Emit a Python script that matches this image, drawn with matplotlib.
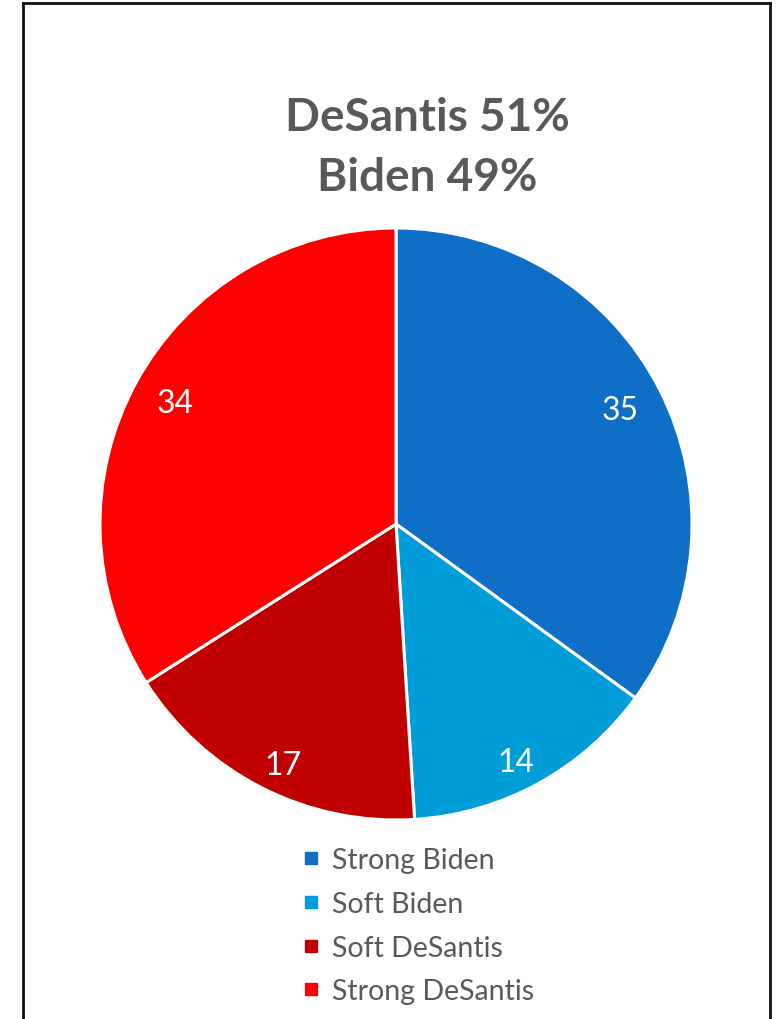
import matplotlib
matplotlib.use("Agg")
import matplotlib.pyplot as plt
from matplotlib.lines import Line2D
import numpy as np

categories = ["Strong Biden", "Soft Biden", "Soft DeSantis", "Strong DeSantis"]
values = [35, 14, 17, 34]
colors = ["#0F6FC6", "#009DD9", "#C00000", "#FF0000"]
title_lines = ["DeSantis 51%", "Biden 49%"]
label_dist = [0.85, 0.90, 0.90, 0.85]
label_nudge_deg = [0, -2, 2, 0]

plt.rcParams['font.family'] = ['Lato', 'DejaVu Sans']

W, H = 778, 1020
fig = plt.figure(figsize=(W / 100, H / 100), dpi=100)

cx, cy, r = 396, 525, 296
ax = fig.add_axes([(cx - r) / W, (H - cy - r) / H, 2 * r / W, 2 * r / H])
wedges, _ = ax.pie(values, colors=colors, startangle=90, counterclock=False,
                   wedgeprops=dict(edgecolor="white", linewidth=2.2))
for w, v, d, n in zip(wedges, values, label_dist, label_nudge_deg):
    ang = np.deg2rad((w.theta1 + w.theta2) / 2 + n)
    ax.text(d * np.cos(ang), d * np.sin(ang), str(v), ha="center", va="center",
            color="white", fontsize=23)
ax.set_xlim(-1, 1)
ax.set_ylim(-1, 1)
ax.set_aspect("equal")
ax.axis("off")

fig.text(427 / W, 1 - 118 / H, title_lines[0], ha="center", va="center",
         fontsize=33, fontweight="bold", color="#595959")
fig.text(427 / W, 1 - 178 / H, title_lines[1], ha="center", va="center",
         fontsize=33, fontweight="bold", color="#595959")

handles = [Line2D([], [], marker="s", linestyle="none", markersize=8,
                  markerfacecolor=c, markeredgecolor=c) for c in colors]
leg = fig.legend(handles, categories, loc="upper left",
                 bbox_to_anchor=(288 / W, 1 - 834 / H), frameon=False,
                 fontsize=20.5, labelcolor="#595959", handlelength=0.6,
                 handletextpad=0.45, labelspacing=0.62, borderpad=0)

# frame (left, top, right)
lw = 2
fig.add_artist(Line2D([22.5 / W, 22.5 / W], [0, 1 - 3.5 / H], color="#111111", lw=lw, transform=fig.transFigure))
fig.add_artist(Line2D([22.5 / W, 769.5 / W], [1 - 3.5 / H, 1 - 3.5 / H], color="#111111", lw=lw, transform=fig.transFigure))
fig.add_artist(Line2D([769.5 / W, 769.5 / W], [0, 1 - 3.5 / H], color="#111111", lw=lw, transform=fig.transFigure))

fig.savefig("out.png", dpi=100)
